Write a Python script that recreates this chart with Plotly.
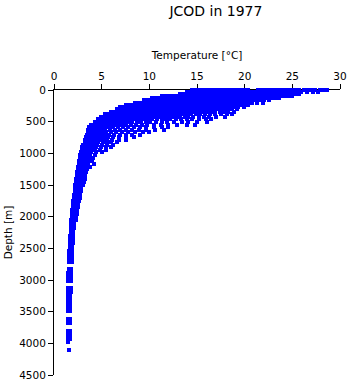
import plotly.graph_objects as go

# ---- data (depth level [m] -> temperatures [°C]) ----
upper_depths = [2, 30, 60, 95, 130, 165, 200, 235, 270, 305]
upper_temps = [
    [14.5, 14.8, 15.2, 15.5, 15.7, 16.1, 16.4, 16.6, 17.0, 17.3, 17.5, 17.9, 18.2, 18.4, 18.8, 19.1, 19.3, 19.7, 20.0, 20.3,
     21.4, 21.7, 22.1, 22.3, 22.6, 23.0, 23.3, 23.5, 23.9, 24.2, 24.4, 24.8, 25.1, 25.4, 25.7, 26.2, 26.6, 27.1, 27.4, 27.9, 28.2, 28.6],
    [14.0, 14.3, 14.7, 15.0, 15.2, 15.6, 15.9, 16.2, 16.5, 16.8, 17.0, 17.4, 17.7, 18.0, 18.3, 18.6, 18.8, 19.2, 19.5, 19.8,
     20.1, 20.4, 20.7, 21.0, 21.3, 21.6, 21.9, 22.2, 22.5, 22.8, 23.1, 23.4, 23.7, 24.0, 24.3, 24.6, 24.9, 25.2, 25.5, 25.9, 26.5, 27.2, 27.7],
    [13.2, 13.5, 13.9, 14.2, 14.5, 14.9, 15.1, 15.4, 15.8, 16.0, 16.3, 16.7, 16.9, 17.2, 17.6, 17.8, 18.1, 18.5, 18.7, 19.0,
     19.4, 19.6, 19.9, 20.3, 20.5, 20.8, 21.2, 21.4, 21.7, 22.1, 22.3, 22.6, 23.0, 23.2, 23.5, 23.9, 24.1, 24.4, 24.8, 25.0, 25.4, 25.7],
    [11.3, 11.6, 12.0, 12.3, 12.5, 12.9, 13.2, 13.4, 13.8, 14.1, 14.3, 14.7, 15.0, 15.3, 15.6, 15.9, 16.2, 16.5, 16.8, 17.1,
     17.4, 17.7, 18.0, 18.3, 18.6, 18.9, 19.2, 19.5, 19.8, 20.1, 20.4, 20.7, 21.0, 21.3, 21.6, 21.9, 22.2, 22.5, 22.8, 23.1, 23.4, 23.7, 24.0, 24.3, 24.6, 25.0],
    [10.3, 10.6, 11.0, 11.2, 11.5, 11.9, 12.2, 12.4, 12.8, 13.1, 13.3, 13.7, 14.0, 14.3, 14.6, 14.9, 15.2, 15.5, 15.8, 16.1,
     16.4, 16.7, 17.0, 17.3, 17.6, 17.9, 18.2, 18.5, 18.8, 19.1, 19.4, 19.7, 20.0, 20.3, 20.6, 20.9, 21.2, 21.5, 21.8, 22.1, 22.4, 22.7, 23.0, 23.3, 23.6],
    [9.4, 9.7, 10.1, 10.4, 10.6, 11.0, 11.3, 11.5, 11.9, 12.2, 12.4, 12.8, 13.1, 13.4, 13.7, 14.0, 14.3, 14.6, 14.9, 15.2,
     15.5, 15.8, 16.1, 16.4, 16.7, 17.0, 17.3, 17.6, 17.9, 18.2, 18.5, 18.8, 19.1, 19.4, 19.7, 20.0, 20.3, 20.6, 20.9, 21.2, 21.6, 22.0, 22.6],
    [8.5, 8.8, 9.2, 9.5, 9.7, 10.1, 10.4, 10.6, 11.0, 11.3, 11.5, 11.9, 12.2, 12.5, 12.8, 13.1, 13.4, 13.7, 14.0, 14.3,
     14.6, 14.9, 15.2, 15.5, 15.8, 16.1, 16.4, 16.7, 17.0, 17.3, 17.6, 17.9, 18.2, 18.5, 18.8, 19.1, 19.4, 19.7, 20.0, 20.4, 20.8, 21.3, 21.9],
    [7.6, 7.9, 8.3, 8.6, 8.8, 9.2, 9.5, 9.7, 10.1, 10.4, 10.6, 11.0, 11.3, 11.6, 11.9, 12.2, 12.5, 12.8, 13.1, 13.4,
     13.7, 14.0, 14.3, 14.6, 14.9, 15.2, 15.5, 15.8, 16.1, 16.4, 16.7, 17.0, 17.3, 17.6, 17.9, 18.2, 18.5, 18.8, 19.1, 19.5, 19.9, 20.3],
    [6.9, 7.2, 7.6, 7.9, 8.1, 8.5, 8.8, 9.0, 9.4, 9.7, 9.9, 10.3, 10.6, 10.9, 11.2, 11.5, 11.8, 12.1, 12.4, 12.7,
     13.0, 13.3, 13.6, 13.9, 14.2, 14.5, 14.8, 15.1, 15.4, 15.7, 16.0, 16.3, 16.6, 16.9, 17.2, 17.5, 17.8, 18.1, 18.4, 18.8, 19.3, 19.9],
    [6.6, 6.9, 7.3, 7.6, 7.9, 8.3, 8.6, 8.8, 9.2, 9.5, 9.8, 10.1, 10.4, 10.7, 11.0, 11.3, 11.6, 11.9, 12.2, 12.5,
     12.8, 13.1, 13.4, 13.7, 14.0, 14.3, 14.6, 14.9, 15.2, 15.5, 15.8, 16.1, 16.4, 16.7, 17.0, 17.3, 17.6, 17.9, 18.3, 18.7, 19.2],
]

thermo_depths = [345, 385, 425, 465, 505, 545, 585, 625, 665, 705, 745, 785, 825, 865, 905, 945, 985,
                 1030, 1075, 1120, 1165, 1210]
thermo_temps = [
    [6.0, 6.3, 6.7, 7.0, 7.3, 7.6, 8.0, 8.3, 8.6, 9.0, 9.3, 9.6, 10.0, 10.4, 10.7, 11.1, 11.4, 11.8, 12.1, 12.5,
     12.8, 13.2, 13.5, 13.9, 14.2, 14.6, 15.0, 15.3, 15.7, 16.1, 16.5, 16.9, 17.4, 17.8, 18.3, 18.9],
    [5.3, 5.6, 5.9, 6.2, 6.6, 6.9, 7.2, 7.5, 7.9, 8.2, 8.5, 8.9, 9.2, 9.5, 9.9, 10.3, 10.6, 11.0, 11.4, 11.7,
     12.1, 12.5, 12.9, 13.3, 13.6, 14.0, 14.4, 14.9, 15.3, 15.8, 16.4, 16.9, 17.5, 18.1, 18.7],
    [4.9, 5.2, 5.5, 5.8, 6.2, 6.5, 6.8, 7.2, 7.5, 7.8, 8.2, 8.5, 8.9, 9.3, 9.6, 10.0, 10.4, 10.8, 11.2, 11.6,
     12.0, 12.4, 12.8, 13.2, 13.7, 14.1, 14.6, 15.2, 15.7, 16.3, 17.0, 17.9],
    [4.6, 4.9, 5.2, 5.5, 5.8, 6.2, 6.5, 6.9, 7.2, 7.6, 7.9, 8.3, 8.7, 9.1, 9.5, 9.9, 10.3, 10.8, 11.3, 11.7,
     12.2, 12.8, 13.3, 13.9, 14.5, 15.2, 15.9, 16.5],
    [4.3, 4.6, 4.9, 5.2, 5.6, 5.9, 6.3, 6.6, 7.0, 7.4, 7.8, 8.2, 8.7, 9.1, 9.6, 10.1, 10.7, 11.3, 11.9, 12.6, 13.4, 14.1, 15.0, 16.0],
    [3.9, 4.2, 4.5, 4.8, 5.2, 5.5, 5.9, 6.3, 6.7, 7.1, 7.6, 8.1, 8.6, 9.2, 9.8, 10.5, 11.2, 12.0, 12.9, 14.0, 14.8],
    [3.7, 4.0, 4.3, 4.6, 5.0, 5.4, 5.8, 6.2, 6.7, 7.2, 7.8, 8.4, 9.0, 9.7, 10.5, 11.3, 12.0],
    [3.6, 3.9, 4.2, 4.6, 5.0, 5.4, 5.9, 6.4, 6.9, 7.5, 8.2, 8.9, 9.7, 10.6, 11.5],
    [3.55, 3.85, 4.2, 4.6, 5.0, 5.5, 6.0, 6.5, 7.1, 7.8, 8.5, 9.3, 10.0],
    [3.5, 3.8, 4.1, 4.5, 4.9, 5.3, 5.8, 6.3, 6.9, 7.5, 8.2, 9.0],
    [3.4, 3.7, 4.0, 4.4, 4.8, 5.2, 5.7, 6.2, 6.8, 7.6, 8.4],
    [3.3, 3.6, 3.9, 4.3, 4.7, 5.1, 5.6, 6.1, 6.8, 7.5],
    [3.2, 3.5, 3.8, 4.2, 4.6, 5.1, 5.6, 6.0, 6.6],
    [3.05, 3.35, 3.7, 4.1, 4.5, 5.0, 5.6, 6.2],
    [2.95, 3.25, 3.6, 4.0, 4.4, 4.9, 5.5, 6.0],
    [2.9, 3.2, 3.5, 3.9, 4.3, 4.8, 5.5],
    [2.85, 3.15, 3.5, 3.9, 4.4, 5.0],
    [2.75, 3.05, 3.4, 3.8, 4.3],
    [2.7, 3.0, 3.35, 3.75, 4.1],
    [2.65, 2.95, 3.3, 3.7, 4.0],
    [2.6, 2.9, 3.25, 3.6, 4.2],
    [2.55, 2.85, 3.15, 3.5, 3.8],
]

deep_depths = [1255, 1300, 1350, 1400, 1450, 1500, 1550, 1600, 1650, 1700, 1750, 1800, 1850, 1900, 1950, 2000,
               2060, 2120, 2180, 2240, 2300, 2360, 2420, 2480, 2540, 2600, 2660, 2720, 2830, 2890, 2950, 3010,
               3130, 3190, 3250, 3310, 3370, 3430, 3490, 3620, 3680, 3810, 3870, 3930, 3980, 4110]
deep_temps = [
    [2.5, 2.8, 3.1, 3.45], [2.45, 2.75, 3.05, 3.35], [2.4, 2.7, 3.0, 3.3], [2.35, 2.65, 2.95, 3.2],
    [2.3, 2.6, 2.9, 3.1], [2.25, 2.55, 2.85, 3.0], [2.2, 2.5, 2.8], [2.15, 2.45, 2.8], [2.1, 2.4, 2.75],
    [2.05, 2.35, 2.7], [2.0, 2.3, 2.6], [1.95, 2.25, 2.55], [1.95, 2.2, 2.5], [1.9, 2.2, 2.45],
    [1.85, 2.15, 2.4], [1.85, 2.1, 2.35], [1.8, 2.1, 2.3], [1.8, 2.05], [1.75, 2.05], [1.75, 2.0],
    [1.7, 2.0], [1.7, 1.95], [1.65, 1.95], [1.65, 1.9], [1.6, 1.9], [1.6, 1.85], [1.6, 1.85], [1.55, 1.85],
    [1.55, 1.8], [1.5, 1.8], [1.5, 1.8], [1.5, 1.75], [1.5, 1.75], [1.45, 1.75], [1.45, 1.7], [1.45, 1.7],
    [1.45, 1.7], [1.45, 1.7], [1.45, 1.7], [1.5, 1.7], [1.5, 1.7], [1.5, 1.7], [1.45, 1.7], [1.5, 1.7],
    [1.5], [1.6],
]

x_ticks = [0, 5, 10, 15, 20, 25, 30]
y_ticks = [0, 500, 1000, 1500, 2000, 2500, 3000, 3500, 4000, 4500]

# ---- flatten ----
temperature, depth = [], []
for levels, rows in ((upper_depths, upper_temps), (thermo_depths, thermo_temps), (deep_depths, deep_temps)):
    for d, ts in zip(levels, rows):
        for t in ts:
            temperature.append(t)
            depth.append(d)

FONT = "DejaVu Sans"

fig = go.Figure(go.Scatter(
    x=temperature, y=depth, mode="markers",
    marker=dict(symbol="square", size=4, color="#0000ff", line=dict(width=0)),
    cliponaxis=False, hoverinfo="skip",
))

fig.update_layout(
    width=348, height=384,
    margin=dict(l=54, r=8, t=90, b=9, autoexpand=False),
    paper_bgcolor="white", plot_bgcolor="white",
    showlegend=False,
    font=dict(family=FONT, size=10.5, color="black"),
    title=dict(text="JCOD in 1977", x=197 / 348, xanchor="center", xref="paper",
               y=1 - 11 / 384, yanchor="middle", font=dict(family=FONT, size=14, color="black")),
)

fig.update_xaxes(
    range=[0, 30], side="top", tickmode="array", tickvals=x_ticks,
    ticks="outside", ticklen=5, tickwidth=1, tickcolor="black",
    showline=True, linecolor="black", linewidth=1, mirror=False,
    showgrid=False, zeroline=False, layer="below traces", automargin=False,
    title=dict(text="Temperature [°C]", standoff=8, font=dict(family=FONT, size=10.5)),
)
fig.update_yaxes(
    range=[4500, 0], tickmode="array", tickvals=y_ticks,
    ticks="outside", ticklen=5, tickwidth=1, tickcolor="black",
    showline=True, linecolor="black", linewidth=1, mirror=False,
    showgrid=False, zeroline=False, layer="below traces", automargin=False,
    title=dict(text="Depth [m]", standoff=4, font=dict(family=FONT, size=10.5)),
)

post = (
    "document.documentElement.style.margin='0';document.body.style.margin='0';"
    "document.body.style.overflow='hidden';"
    "var g=document.getElementById('{plot_id}');"
    "g.querySelectorAll('path.point').forEach(function(p){p.setAttribute('shape-rendering','crispEdges');});"
)

fig.write_html("out.html", config={"displayModeBar": False}, post_script=post)
